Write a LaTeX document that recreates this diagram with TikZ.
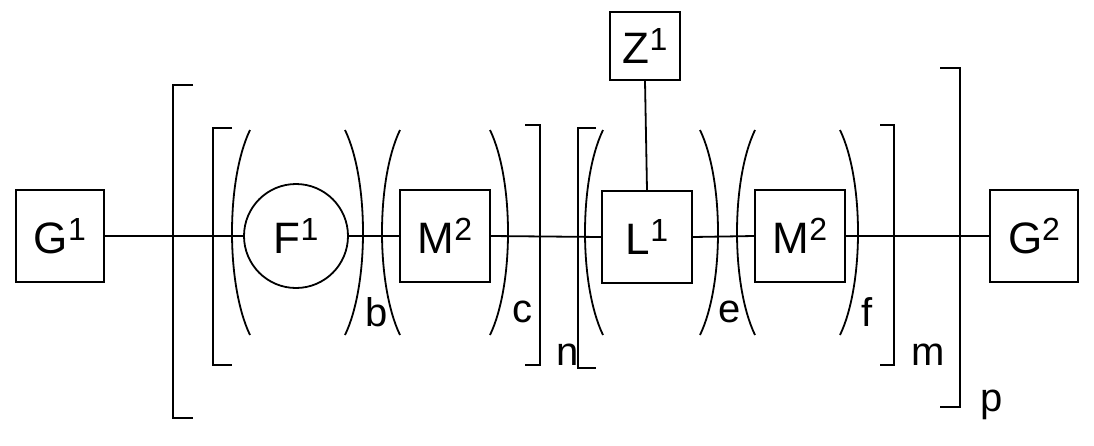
\documentclass[tikz,border=0pt]{standalone}
\usepackage{fontspec}
\setmainfont{Liberation Sans}
\newcommand{\supr}[1]{\raisebox{0.55ex}{\fontsize{32}{34}\selectfont #1}}
\begin{document}
\begin{tikzpicture}[x=1pt,y=-1pt,line width=1.8pt,
  bx/.style={draw,minimum width=88pt,minimum height=92pt,inner sep=0pt,font=\fontsize{44}{48}\selectfont},
  lb/.style={font=\fontsize{40}{44}\selectfont,inner sep=0pt}]
\useasboundingbox (0,0) rectangle (1094,445);
\node[bx] (G1) at (60,236) {G\supr{1}};
\node[draw,circle,minimum size=104pt,inner sep=0pt,font=\fontsize{44}{48}\selectfont] (F1) at (296,236) {F\supr{1}};
\node[bx,minimum width=90pt] (M1) at (445,236) {M\supr{2}};
\node[bx,minimum width=90pt] (L1) at (647,237) {L\supr{1}};
\node[bx,minimum width=90pt] (M2) at (800,236) {M\supr{2}};
\node[bx] (G2) at (1034,236) {G\supr{2}};
\node[bx,minimum width=70pt,minimum height=68pt] (Z1) at (645,46) {Z\supr{1}};
\draw (G1.east) -- (F1.west);
\draw (F1.east) -- (M1.west);
\draw (M1.east) -- (L1.west);
\draw (L1.east) -- (M2.west);
\draw (M2.east) -- (G2.west);
\draw (Z1.south) -- (L1.north);
% brackets
\draw (193,85) -- (173,85) -- (173,418) -- (193,418);
\draw (940,68) -- (960,68) -- (960,407) -- (940,407);
\draw (232,128) -- (213,128) -- (213,365) -- (232,365);
\draw (525,125) -- (540,125) -- (540,365) -- (525,365);
\draw (596,128) -- (578,128) -- (578,368) -- (596,368);
\draw (880,125) -- (894,125) -- (894,365) -- (880,365);
% parentheses
\foreach \a/\b in {250/345, 400/490, 603/700, 755/840}{
  \draw (\a,130) .. controls (\a-24,180) and (\a-24,285) .. (\a,335);
  \draw (\b,130) .. controls (\b+24,180) and (\b+24,285) .. (\b,335);
}
\node[lb] (b) at (377,312) {b};
\node[lb] (c) at (522,312) {c};
\node[lb] (n) at (568,355) {n};
\node[lb] (e) at (730,312) {e};
\node[lb] (f) at (867,312) {f};
\node[lb] (m) at (928,355) {m};
\node[lb] (p) at (992,405) {p};
\end{tikzpicture}
\end{document}
